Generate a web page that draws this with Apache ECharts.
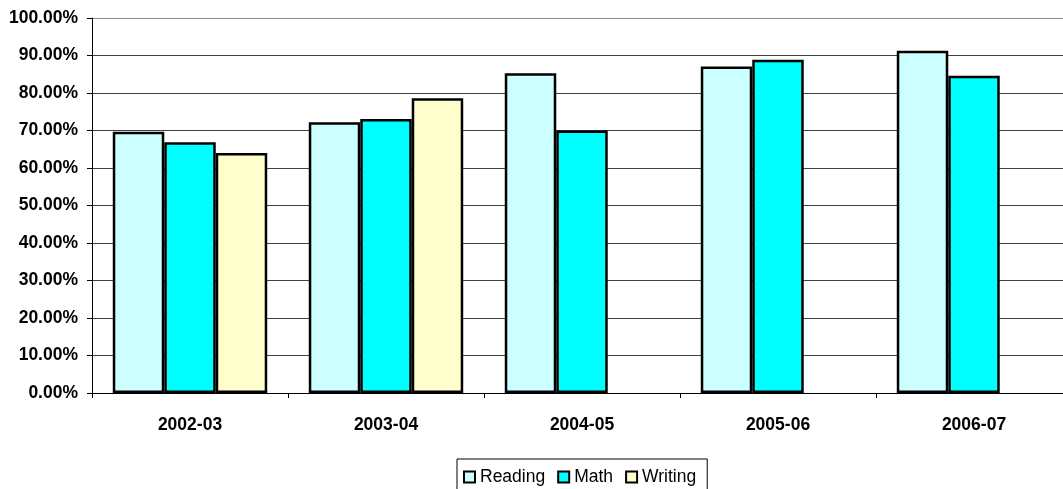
<!DOCTYPE html>
<html>
<head>
<meta charset="utf-8">
<script src="https://cdn.jsdelivr.net/npm/echarts@6/dist/echarts.min.js"></script>
<style>
  html, body { margin: 0; padding: 0; background: #ffffff; overflow: hidden; }
  /* the canvas is a little wider than the window so the plot area runs past the right edge */
  #chart { width: 1072px; height: 489px; }
</style>
</head>
<body>
<div id="chart"></div>
<script>
// School years on the category axis
const years = ['2002-03', '2003-04', '2004-05', '2005-06', '2006-07'];

// Percent of students meeting the standard, by subject
const reading = [69.7, 72.2, 85.3, 87.1, 91.3];
const math = [66.9, 73.1, 70.0, 88.9, 84.6];
const writing = [64.0, 78.6, null, null, null];

const seriesNames = ['Reading', 'Math', 'Writing'];
const seriesColors = ['#CCFFFF', '#00FFFF', '#FFFFCC'];
const seriesData = [reading, math, writing];

const FONT = '"Liberation Sans", Arial, Helvetica, sans-serif';

// Gridline colours; the topmost line (100%) is lighter
const gridColors = ['#404040', '#404040', '#404040', '#404040', '#404040',
  '#404040', '#404040', '#404040', '#404040', '#404040', '#8a8a8a'];

const chart = echarts.init(document.getElementById('chart'), null, { renderer: 'canvas' });

chart.setOption({
  animation: false,
  backgroundColor: '#ffffff',
  grid: { left: 92, right: 0, top: 18, bottom: 96, containLabel: false },
  legend: {
    data: seriesNames,
    left: 457,
    top: 459,
    orient: 'horizontal',
    padding: [9, 11, 12, 6],
    itemGap: 12,
    itemWidth: 11,
    itemHeight: 11,
    borderColor: '#000000',
    borderWidth: 1,
    borderRadius: 0,
    icon: 'rect',
    textStyle: { fontFamily: FONT, fontSize: 17.5, color: '#000000' }
  },
  xAxis: {
    type: 'category',
    data: years,
    axisLine: { show: true, lineStyle: { color: '#000000', width: 1 } },
    axisTick: { show: true, length: 5, lineStyle: { color: '#000000' } },
    axisLabel: {
      margin: 23,
      fontFamily: FONT,
      fontSize: 17.5,
      fontWeight: 'bold',
      color: '#000000'
    },
    splitLine: { show: false }
  },
  yAxis: {
    type: 'value',
    min: 0,
    max: 100,
    interval: 10,
    axisLine: { show: true, lineStyle: { color: '#000000', width: 1 } },
    axisTick: { show: true, length: 5, lineStyle: { color: '#000000' } },
    axisLabel: {
      margin: 14,
      fontFamily: FONT,
      fontSize: 17.5,
      fontWeight: 'bold',
      color: '#000000',
      formatter: v => v.toFixed(2) + '%'
    },
    splitLine: { show: true, lineStyle: { color: gridColors, width: 1 } }
  },
  series: seriesNames.map((name, i) => ({
    name: name,
    type: 'bar',
    data: seriesData[i],
    barGap: '0%',
    barCategoryGap: '21.2%',
    itemStyle: {
      color: seriesColors[i],
      borderColor: '#000000',
      borderWidth: 2.5
    },
    emphasis: { disabled: true }
  }))
});
</script>
</body>
</html>
